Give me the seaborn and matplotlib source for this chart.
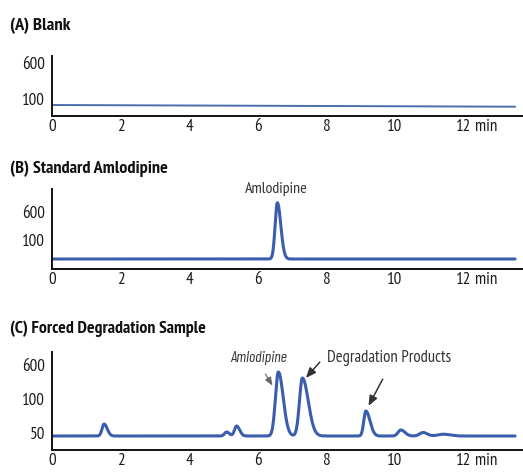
import numpy as np
import pandas as pd
import matplotlib
matplotlib.use("Agg")
import matplotlib.pyplot as plt
import matplotlib.transforms as mtransforms
from matplotlib import font_manager
from matplotlib.font_manager import FontProperties
from matplotlib.textpath import TextPath
import seaborn as sns

# ---------------- data ----------------
panel_titles = ["(A) Blank", "(B) Standard Amlodipine", "(C) Forced Degradation Sample"]
x_ticks = [0, 2, 4, 6, 8, 10, 12]
x_tick_labels = ["0", "2", "4", "6", "8", "10", "12"]

# y tick labels (non-linear detector scale) and their signal positions per panel
a_ytick_labels = ["100", "600"]
a_ytick_pos = [17, 53]
b_ytick_labels = ["100", "600"]
b_ytick_pos = [29, 57]
c_ytick_labels = ["50", "100", "600"]
c_ytick_pos = [17, 51, 85]

# baselines (start, end signal)
a_baseline = [11.0, 9.3]
b_baseline = [10.0, 10.0]
c_baseline = [14.0, 14.0]

# peak tables: retention time (min), height above baseline, left/right width (min)
b_peak_time = [6.57]
b_peak_height = [56.3]
b_peak_wl = [0.065]
b_peak_wr = [0.10]

c_peak_time = [1.52, 5.09, 5.38, 6.60, 7.30, 9.15, 10.17, 10.82, 11.40]
c_peak_height = [12.0, 4.0, 10.0, 64.0, 58.0, 25.0, 6.0, 3.5, 1.8]
c_peak_wl = [0.06, 0.06, 0.06, 0.085, 0.085, 0.06, 0.08, 0.10, 0.15]
c_peak_wr = [0.09, 0.08, 0.09, 0.14, 0.17, 0.12, 0.12, 0.12, 0.20]

run_end = 13.5

# ---------------- build traces ----------------
t = np.linspace(0, run_end, 2000)


def trace(baseline, times, heights, wl, wr):
    y = np.interp(t, [0, run_end], baseline)
    for tc, h, sl, sr in zip(times, heights, wl, wr):
        s = np.where(t < tc, sl, sr)
        y = y + h * np.exp(-0.5 * ((t - tc) / s) ** 2)
    return pd.DataFrame({"time": t, "signal": y})


df_a = trace(a_baseline, [], [], [], [])
df_b = trace(b_baseline, b_peak_time, b_peak_height, b_peak_wl, b_peak_wr)
df_c = trace(c_baseline, c_peak_time, c_peak_height, c_peak_wl, c_peak_wr)

# ---------------- fonts: pick the condensed family closest to the reference ----------------
sns.set_style("white")
font_list = font_manager.fontManager.ttflist
names = {f.name for f in font_list}
italic_names = {f.name for f in font_list if f.style in ("italic", "oblique")}
candidates = ["Fira Sans Extra Condensed", "Fira Sans Condensed", "PT Sans Narrow",
              "Open Sans Condensed", "Roboto Condensed", "Encode Sans Condensed",
              "Encode Sans Semi Condensed", "Archivo Narrow", "Asap Condensed",
              "Barlow Semi Condensed", "Barlow Condensed", "Ubuntu Condensed",
              "IBM Plex Sans Condensed", "Sofia Sans Condensed", "Sofia Sans Semi Condensed",
              "Saira Semi Condensed", "Pragati Narrow", "Liberation Sans Narrow",
              "Encode Sans Compressed"]
target_ratio = 195 / 12.5   # title width / cap height in the reference


def pick(fams):
    best, best_err = None, 1e9
    for fam in fams:
        try:
            fp = FontProperties(family=fam, weight="semibold")
            w = TextPath((0, 0), panel_titles[2], size=10, prop=fp).get_extents().width
            h = TextPath((0, 0), "H", size=10, prop=fp).get_extents().height
            err = abs(w / h - target_ratio)
            if err < best_err:
                best, best_err = fam, err
        except Exception:
            pass
    return best


best = pick([f for f in candidates if f in names])
best_italic = pick([f for f in candidates if f in italic_names])
if best:
    plt.rcParams["font.family"] = [best, "DejaVu Sans"]
else:
    plt.rcParams["font.family"] = ["DejaVu Sans"]
    plt.rcParams["font.stretch"] = "condensed"
if best_italic:
    italic_kw = dict(family=[best_italic, "DejaVu Sans"], style="italic")
else:
    italic_kw = dict(family=["DejaVu Sans"], style="italic", stretch="condensed")

W, H = 523, 475
fig = plt.figure(figsize=(W / 100, H / 100), dpi=100)
renderer = fig.canvas.get_renderer()


def fit_width(artist, target_px):
    """Scale a text's font size so that its rendered width matches target_px."""
    for _ in range(3):
        w = artist.get_window_extent(renderer=renderer).width
        if w > 0:
            artist.set_fontsize(artist.get_fontsize() * target_px / w)


x0_px = 52
px_per_min = 34.3
xmax = (W - x0_px) / px_per_min

# (axis bottom px, axis top px)
layout = [(116, 56), (269, 189), (450, 352)]
dfs = [df_a, df_b, df_c]
yticks = [(a_ytick_pos, a_ytick_labels), (b_ytick_pos, b_ytick_labels), (c_ytick_pos, c_ytick_labels)]
title_y = [26, 169, 329]
title_w = [60, 158, 195]
line_col = "#3a5dad"

# tick font size: "600" is ~22 px wide in the reference
probe = fig.text(0, 0, "600", fontsize=11)
fit_width(probe, 23)
tick_fs = probe.get_fontsize()
probe.remove()

axes = []
for i, ((bot, top), df, (yp, yl)) in enumerate(zip(layout, dfs, yticks)):
    ax = fig.add_axes([x0_px / W, (H - bot) / H, (W - x0_px) / W, (bot - top) / H])
    ax.set_facecolor("none")
    sns.lineplot(data=df, x="time", y="signal", ax=ax,
                 color=line_col if i > 0 else "#4a6fa8",
                 linewidth=2.2 if i > 0 else 1.4)
    ax.set_xlim(0, xmax)
    ax.set_ylim(0, bot - top)
    ax.set_xlabel("")
    ax.set_ylabel("")
    ax.set_xticks(x_ticks)
    ax.set_xticklabels(x_tick_labels)
    ax.set_yticks(yp)
    ax.set_yticklabels(yl)
    ax.tick_params(axis="both", length=0, labelsize=tick_fs, colors="#1a1a1a")
    ax.tick_params(axis="x", pad=2)
    ax.tick_params(axis="y", pad=5)
    for s in ["top", "right"]:
        ax.spines[s].set_visible(False)
    for s in ["left", "bottom"]:
        ax.spines[s].set_color("#111111")
        ax.spines[s].set_linewidth(1.4)
    trans = mtransforms.blended_transform_factory(ax.transData, ax.transAxes)
    off = mtransforms.ScaledTranslation(0, -2 / 72, fig.dpi_scale_trans)
    ax.text(12.33, 0, "min", transform=trans + off, fontsize=tick_fs, color="#1a1a1a",
            ha="left", va="top")
    axes.append(ax)
    tt = fig.text(10 / W, 1 - title_y[i] / H, panel_titles[i], fontsize=12.5,
                  weight="semibold", color="#111111", ha="left", va="center")
    fit_width(tt, title_w[i])

# annotations
ax_b, ax_c = axes[1], axes[2]
t1 = ax_b.text(6.55, 80, "Amlodipine", fontsize=10, ha="center", va="center",
               color="#333333", clip_on=False)
fit_width(t1, 63)

t2 = ax_c.text(6.03, 92, "Amlodipine", fontsize=9, ha="center",
               va="center", color="#333333", clip_on=False, **italic_kw)
fit_width(t2, 57)
t3 = ax_c.text(9.83, 92.5, "Degradation Products", fontsize=10, ha="center",
               va="center", color="#333333", clip_on=False)
fit_width(t3, 124)

arrow_light = dict(arrowstyle="-|>,head_length=0.5,head_width=0.2", color="#666666", lw=0.8)
arrow_dark = dict(arrowstyle="-|>,head_length=0.6,head_width=0.25", color="#333333", lw=1.1)
ax_c.annotate("", xy=(6.47, 62), xytext=(6.18, 78.3), arrowprops=arrow_light,
              annotation_clip=False)
ax_c.annotate("", xy=(7.35, 70), xytext=(7.86, 90), arrowprops=arrow_dark,
              annotation_clip=False)
ax_c.annotate("", xy=(9.19, 41.7), xytext=(9.68, 73.3), arrowprops=arrow_dark,
              annotation_clip=False)

fig.savefig("out.png", dpi=100)
